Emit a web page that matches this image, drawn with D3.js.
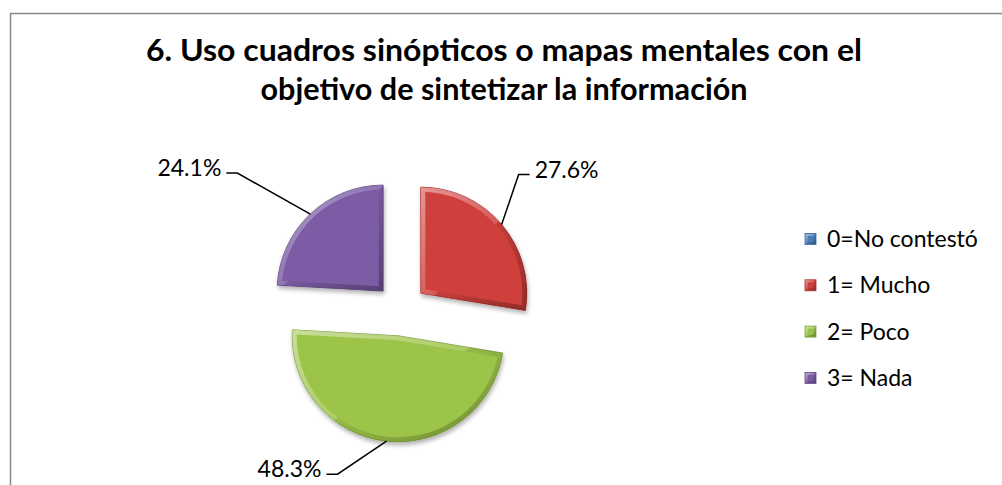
<!DOCTYPE html>
<html>
<head>
<meta charset="utf-8">
<script src="https://cdnjs.cloudflare.com/ajax/libs/d3/7.8.5/d3.min.js"></script>
<style>
  body { margin: 0; background: #fff; }
  text { font-family: Lato, "Open Sans", sans-serif; fill: #000; }
</style>
</head>
<body>
<div id="chart"></div>
<script>
var svgWidth = 1002;
var svgHeight = 485;

// chart data
var titleLines = ["6. Uso cuadros sinópticos o mapas mentales con el",
                  "objetivo de sintetizar la información"];
var categories = ["0=No contestó", "1= Mucho", "2= Poco", "3= Nada"];
var percentages = [0, 27.6, 48.3, 24.1];

var colors = ["#4a7ebb", "#cf3f3c", "#9cc44a", "#7c5ca5"];

// pie layout
var center = { x: 401, y: 310 };
var radius = 106;
var explode = 26;

// label elbows, relative to the middle of each slice's arc
var labelLayout = {
  "1= Mucho": { dx: 17, dy: -50, side: 1 },
  "2= Poco": { dx: -49, dy: 33, side: -1 },
  "3= Nada": { dx: -73, dy: -41, side: -1 }
};

// widths the title lines take in the original (narrow font)
var titleWidths = [716, 487];

var svg = d3.select("#chart")
  .append("svg")
  .attr("width", svgWidth)
  .attr("height", svgHeight);

var defs = svg.append("defs");

var shadow = defs.append("filter")
  .attr("id", "shadow")
  .attr("x", "-20%").attr("y", "-20%")
  .attr("width", "140%").attr("height", "140%");
shadow.append("feDropShadow")
  .attr("dx", 1).attr("dy", 3)
  .attr("stdDeviation", 2)
  .attr("flood-color", "#000")
  .attr("flood-opacity", 0.3);

// bevel rim: light on the upper left, dark on the lower right
var rim = defs.append("linearGradient")
  .attr("id", "rimGrad")
  .attr("x1", 0).attr("y1", 0)
  .attr("x2", 1).attr("y2", 1);
rim.append("stop").attr("offset", "0%").attr("stop-color", "#fff").attr("stop-opacity", 0.45);
rim.append("stop").attr("offset", "50%").attr("stop-color", "#fff").attr("stop-opacity", 0.15);
rim.append("stop").attr("offset", "51%").attr("stop-color", "#000").attr("stop-opacity", 0.05);
rim.append("stop").attr("offset", "100%").attr("stop-color", "#000").attr("stop-opacity", 0.3);

// outer border (runs off the right and bottom of the picture)
svg.append("rect")
  .attr("x", 10.5)
  .attr("y", 13.5)
  .attr("width", 1000)
  .attr("height", 500)
  .attr("fill", "none")
  .attr("stroke", "#898989")
  .attr("stroke-width", 1.5);

// title
svg.append("g")
  .selectAll("text")
  .data(titleLines)
  .enter()
  .append("text")
  .attr("x", 504)
  .attr("y", (d, i) => 61 + i * 39)
  .attr("text-anchor", "middle")
  .attr("textLength", (d, i) => titleWidths[i])
  .attr("lengthAdjust", "spacingAndGlyphs")
  .style("font-weight", "bold")
  .style("font-size", "30px")
  .text(d => d);

var data = categories.map((c, i) => ({ name: c, value: percentages[i], color: colors[i] }));

var pie = d3.pie()
  .sort(null)
  .value(d => d.value);

var arc = d3.arc()
  .innerRadius(0)
  .outerRadius(radius);

var arcs = pie(data).filter(d => d.value > 0);

function direction(d) {
  var mid = (d.startAngle + d.endAngle) / 2;
  return [Math.sin(mid), -Math.cos(mid)];
}

var slices = svg.append("g")
  .selectAll("g")
  .data(arcs)
  .enter()
  .append("g")
  .attr("transform", function(d) {
    var dir = direction(d);
    return `translate(${center.x + dir[0] * explode}, ${center.y + dir[1] * explode})`;
  });

slices.append("clipPath")
  .attr("id", (d, i) => "clip" + i)
  .append("path")
  .attr("d", arc);

slices.append("path")
  .attr("d", arc)
  .attr("fill", d => d.data.color)
  .attr("stroke", d => d3.color(d.data.color).darker(0.5))
  .attr("stroke-width", 1)
  .attr("filter", "url(#shadow)");

slices.append("path")
  .attr("d", arc)
  .attr("fill", "none")
  .attr("stroke", "url(#rimGrad)")
  .attr("stroke-width", 9)
  .attr("stroke-linejoin", "round")
  .attr("clip-path", (d, i) => `url(#clip${i})`);

// leader lines and percentage labels
var labels = svg.append("g");
arcs.forEach(function(d) {
  var lay = labelLayout[d.data.name];
  if (!lay) return;
  var dir = direction(d);
  var sx = center.x + dir[0] * (explode + radius);
  var sy = center.y + dir[1] * (explode + radius);
  var ex = sx + lay.dx;
  var ey = sy + lay.dy;
  var hx = ex + lay.side * 11;

  labels.append("polyline")
    .attr("points", [[sx, sy], [ex, ey], [hx, ey]].join(" "))
    .attr("fill", "none")
    .attr("stroke", "#000")
    .attr("stroke-width", 1.5);

  labels.append("text")
    .attr("x", hx + lay.side * 5)
    .attr("y", ey + 3)
    .attr("text-anchor", lay.side > 0 ? "start" : "end")
    .style("font-size", "23px")
    .text(d3.format(".1f")(d.data.value) + "%");
});

// legend
var legend = svg.append("g")
  .selectAll("g")
  .data(data)
  .enter()
  .append("g")
  .attr("transform", (d, i) => `translate(805, ${239 + i * 46.3})`);

legend.append("rect")
  .attr("x", 0)
  .attr("y", -5.5)
  .attr("width", 11)
  .attr("height", 11)
  .attr("fill", d => d.color)
  .attr("stroke", d => d3.color(d.color).darker(0.6))
  .attr("stroke-width", 0.8);

legend.append("rect")
  .attr("x", 1.5)
  .attr("y", -4)
  .attr("width", 8)
  .attr("height", 8)
  .attr("fill", "none")
  .attr("stroke", "url(#rimGrad)")
  .attr("stroke-width", 2);

legend.append("text")
  .attr("x", 22)
  .attr("y", 0)
  .attr("dy", "0.35em")
  .style("font-size", "23px")
  .text(d => d.name);
</script>
</body>
</html>
